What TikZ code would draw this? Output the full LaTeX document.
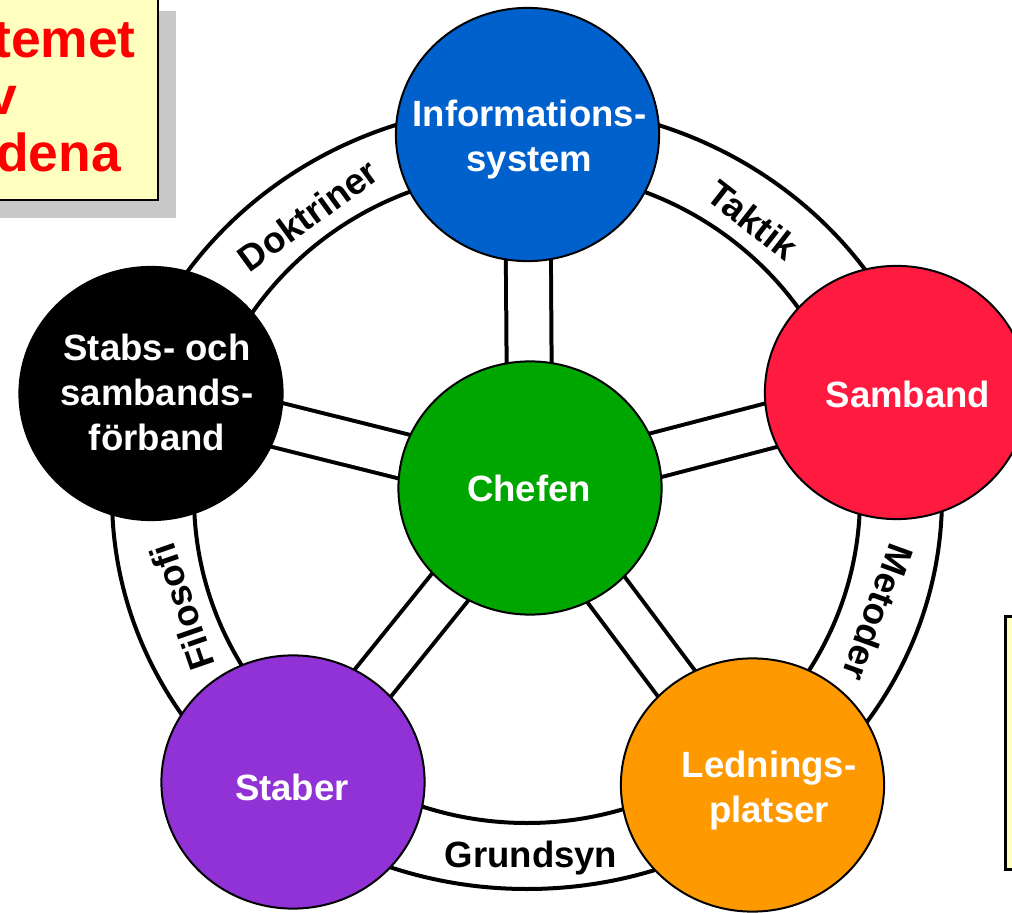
\documentclass[tikz,border=0pt]{standalone}
\usepackage{fontspec}
\setmainfont{Liberation Sans}
\usepackage{tikz}
\usetikzlibrary{shapes.geometric,backgrounds}

\definecolor{infoblue}{RGB}{0,96,204}
\definecolor{sambred}{RGB}{255,26,64}
\definecolor{chefgreen}{RGB}{0,166,0}
\definecolor{ledorange}{RGB}{255,153,0}
\definecolor{stabpurple}{RGB}{145,50,215}
\definecolor{notepaper}{RGB}{255,255,192}
\definecolor{shadowgray}{RGB}{200,200,200}

\begin{document}
\begin{tikzpicture}[x=0.25mm,y=-0.25mm,
  disc/.style={ellipse,draw=black,line width=0.5mm,minimum width=65.8mm,minimum height=63.3mm,inner sep=0pt},
  disctext/.style={text=white,font=\fontsize{26}{32}\selectfont\bfseries,align=center,inner sep=0pt},
  ringtext/.style={font=\fontsize{26}{32}\selectfont\bfseries,inner sep=0pt},
  ringline/.style={draw=black,fill=white,line width=1mm},
  spokeout/.style={line width=12.25mm,black},
  spokein/.style={line width=10.25mm,white},
  boxtext/.style={text=red,font=\fontsize{38}{40}\selectfont\bfseries,inner sep=0pt,anchor=base east}]
 \useasboundingbox (0,0) rectangle (1012,913);

 % notes at the edges
 \draw[fill=shadowgray,draw=none] (-60,11) rectangle (176,218);
 \draw[fill=notepaper,line width=0.65mm] (-60,-60) rectangle (158,200);
 \draw (136,58) node[boxtext] (note1) {temet};
 \draw (17,115) node[boxtext] (note2) {v};
 \draw (121,172) node[boxtext] (note3) {dena};
 \draw[fill=notepaper,line width=0.75mm] (1005,616) rectangle (1060,869);

 % the discs
 \draw (530,488) node[disc,fill=chefgreen] (chefen) {};
 \draw (527.5,134.5) node[disc,fill=infoblue] (info) {};
 \draw (896.5,392.5) node[disc,fill=sambred] (samb) {};
 \draw (752.5,785) node[disc,fill=ledorange] (led) {};
 \draw (293,782) node[disc,fill=stabpurple] (staber) {};
 \draw (151,393.5) node[disc,fill=black] (stabs) {};

 \draw (529,488.5) node[disctext] (chefenT) {Chefen};
 \draw (529.5,140) node[disctext] (infoT) {Informations-\\system};
 \draw (908,394.5) node[disctext] (sambT) {Samband};
 \draw (769,791) node[disctext] (ledT) {Lednings-\\platser};
 \draw (292,787.5) node[disctext] (staberT) {Staber};
 \draw (157,392) node[disctext] (stabsT) {Stabs- och\\sambands-\\förband};

 % ring and spokes behind
 \begin{scope}[on background layer]
  \draw[ringline] (527,497) ellipse [x radius=415,y radius=392];
  \draw[ringline] (527,497) ellipse [x radius=333,y radius=326];
  \foreach \n in {info,samb,led,staber,stabs}
   \path[spokeout] (chefen.center) edge (\n.center);
  \foreach \n in {info,samb,led,staber,stabs}
   \path[spokein] (chefen.center) edge (\n.center);
 \end{scope}

 % words on the ring
 \draw (308,215) node[ringtext,rotate=36] (doktriner) {Doktriner};
 \draw (753,220) node[ringtext,rotate=-38] (taktik) {Taktik};
 \draw (878,613) node[ringtext,rotate=-110] (metoder) {Metoder};
 \draw (182,607) node[ringtext,rotate=109] (filosofi) {Filosofi};
 \draw (531,858) node[ringtext] (grundsyn) {Grundsyn};
\end{tikzpicture}
\end{document}
